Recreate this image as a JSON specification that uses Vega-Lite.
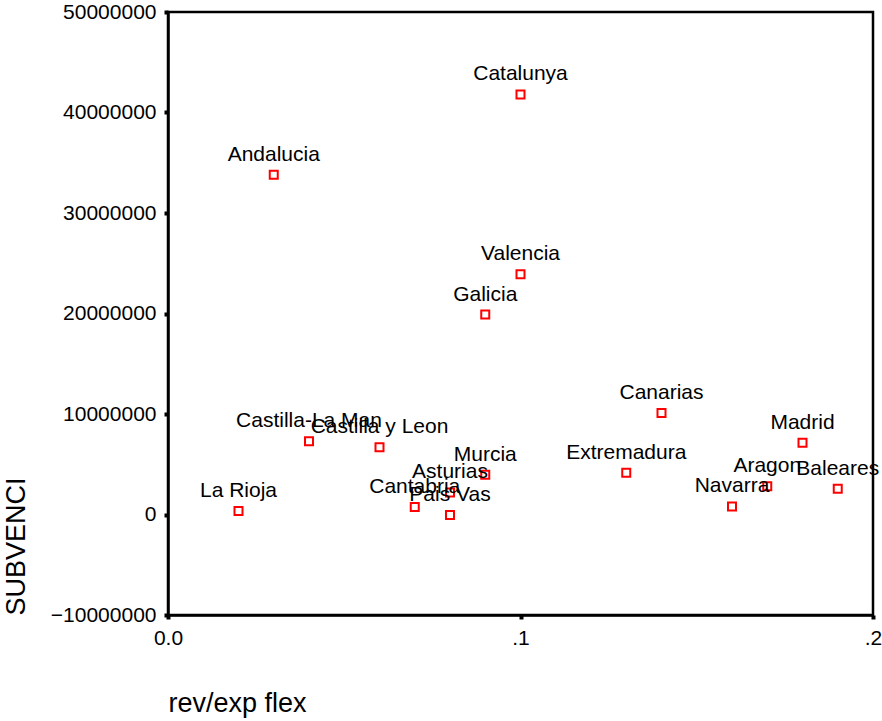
{
  "$schema": "https://vega.github.io/schema/vega-lite/v6.json",
  "width": 705,
  "height": 603,
  "autosize": "none",
  "padding": {"left": 168, "top": 12, "right": 9, "bottom": 106},
  "background": "white",
  "config": {
    "font": "Liberation Sans",
    "view": {"stroke": "black", "strokeWidth": 2.5},
    "axis": {
      "grid": false,
      "domainColor": "black",
      "domainWidth": 2.5,
      "tickColor": "black",
      "tickSize": 4,
      "tickWidth": 4,
      "labelFont": "Liberation Sans",
      "labelFontSize": 21,
      "labelColor": "black",
      "titleFont": "Liberation Sans",
      "titleFontWeight": "normal",
      "titleColor": "black",
      "titleFontSize": 27
    }
  },
  "data": {
    "values": [
      {"region": "Catalunya", "rev": 0.10, "subv": 41800000},
      {"region": "Andalucia", "rev": 0.03, "subv": 33800000},
      {"region": "Valencia", "rev": 0.10, "subv": 23900000},
      {"region": "Galicia", "rev": 0.09, "subv": 19900000},
      {"region": "Canarias", "rev": 0.14, "subv": 10100000},
      {"region": "Madrid", "rev": 0.18, "subv": 7150000},
      {"region": "Castilla-La Man", "rev": 0.04, "subv": 7300000},
      {"region": "Castilla y Leon", "rev": 0.06, "subv": 6700000},
      {"region": "Murcia", "rev": 0.09, "subv": 3950000},
      {"region": "Extremadura", "rev": 0.13, "subv": 4150000},
      {"region": "Asturias", "rev": 0.08, "subv": 2200000},
      {"region": "Aragon", "rev": 0.17, "subv": 2800000},
      {"region": "Baleares", "rev": 0.19, "subv": 2550000},
      {"region": "Navarra", "rev": 0.16, "subv": 800000},
      {"region": "La Rioja", "rev": 0.02, "subv": 350000},
      {"region": "Cantabria", "rev": 0.07, "subv": 750000},
      {"region": "Pais Vas", "rev": 0.08, "subv": -50000}
    ]
  },
  "encoding": {
    "x": {
      "field": "rev",
      "type": "quantitative",
      "scale": {"domain": [0, 0.2], "nice": false, "zero": false},
      "axis": {
        "title": "rev/exp flex",
        "values": [0, 0.1, 0.2],
        "labelExpr": "datum.value == 0 ? '0.0' : replace(format(datum.value, '.1f'), '0.', '.')",
        "labelPadding": 8,
        "titleAnchor": "start",
        "titlePadding": 42,
        "labelFlush": false
      }
    },
    "y": {
      "field": "subv",
      "type": "quantitative",
      "scale": {"domain": [-10000000, 50000000], "nice": false, "zero": false},
      "axis": {
        "title": "SUBVENCI",
        "values": [-10000000, 0, 10000000, 20000000, 30000000, 40000000, 50000000],
        "format": "d",
        "labelPadding": 8,
        "titleAnchor": "start",
        "titlePadding": 20
      }
    }
  },
  "layer": [
    {
      "mark": {"type": "point", "shape": "square", "size": 64, "stroke": "#ff0000", "strokeWidth": 2, "filled": false, "opacity": 1}
    },
    {
      "mark": {"type": "text", "fontSize": 21, "color": "black", "align": "center", "baseline": "alphabetic", "dy": -14},
      "encoding": {"text": {"field": "region"}}
    }
  ]
}
